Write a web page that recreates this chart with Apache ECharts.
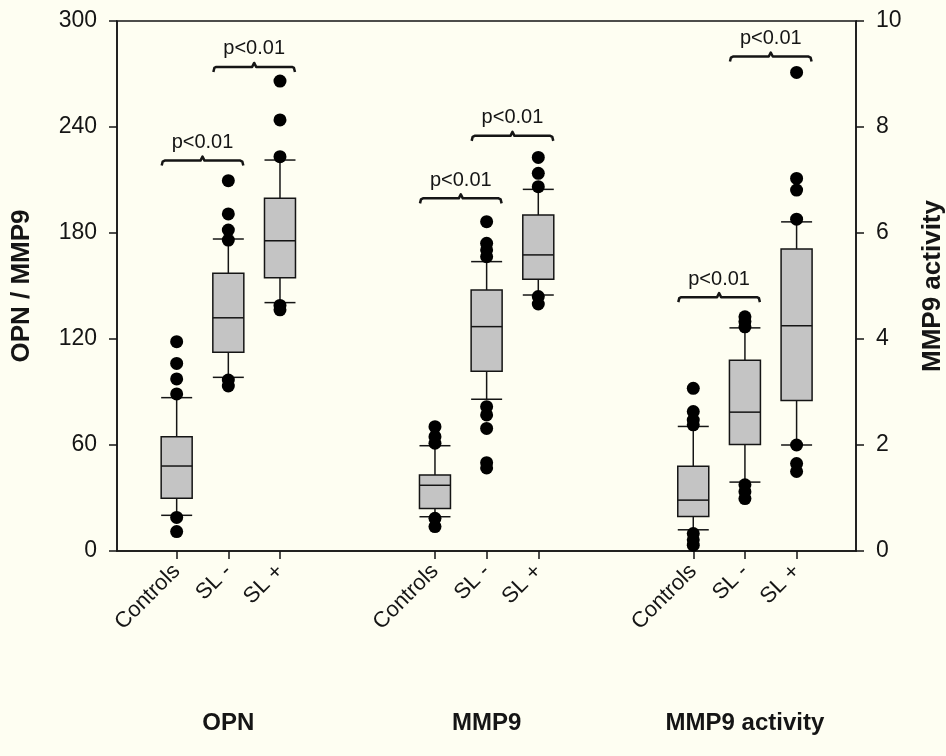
<!DOCTYPE html>
<html>
<head>
<meta charset="utf-8">
<title></title>
<script src="https://cdn.jsdelivr.net/npm/echarts@6.0.0/dist/echarts.min.js"></script>
<style>
    html, body { margin: 0; padding: 0; background: #fefef2; }
    #chart { width: 946px; height: 756px; }
</style>
</head>
<body>
<div id="chart"></div>
<script>
var positions = [0, 1, 2, 5, 6, 7, 10, 11, 12];
var tickLabels = ['Controls', 'SL -', 'SL +', 'Controls', 'SL -', 'SL +', 'Controls', 'SL -', 'SL +'];
var groupPositions = [1, 6, 11];
var groupLabels = ['OPN', 'MMP9', 'MMP9 activity'];

// [lower whisker, Q1, median, Q3, upper whisker]
var opnBoxes = [[20.2, 29.8, 48.1, 64.7, 86.8], [98.3, 112.5, 132, 157.2, 176.6], [140.6, 154.7, 175.6, 199.6, 221.3]];
var mmp9Boxes = [[19.4, 24, 37.2, 43, 59.6], [85.9, 101.7, 127, 147.7, 163.8], [144.9, 153.8, 167.6, 190.2, 204.7]];
var activityBoxes = [[0.40, 0.65, 0.96, 1.60, 2.35], [1.30, 2.01, 2.62, 3.60, 4.21], [2.00, 2.84, 4.25, 5.70, 6.21]];

var opnOutliers = [[118.5, 106.2, 97.4, 88.9, 19, 11], [209.6, 190.8, 181.7, 176, 96.8, 93.4], [266, 244, 223.2, 139, 136.5]];
var mmp9Outliers = [[70.4, 64.7, 61, 18.5, 13.8], [186.4, 174.2, 170.4, 166.6, 81.7, 77, 69.4, 50, 47], [222.8, 213.8, 206.2, 144, 139.8]];
var activityOutliers = [[3.07, 2.63, 2.47, 2.38, 0.33, 0.21, 0.11], [4.42, 4.33, 4.23, 1.25, 1.12, 0.99], [9.03, 7.03, 6.81, 6.26, 2.0, 1.65, 1.5]];

// [from position, to position, y value]
var opnBrackets = [[0, 1, 221], [1, 2, 274]];
var mmp9Brackets = [[5, 6, 199.6], [6, 7, 235]];
var activityBrackets = [[10, 11, 4.79], [11, 12, 9.33]];
var pLabel = 'p<0.01';

var FONT = '"Liberation Sans", Arial, Helvetica, sans-serif';
var INK = '#151515';

function boxData(groups, offset) {
    var out = [];
    groups.forEach(function(b, i) { out.push([positions[offset + i]].concat(b)) });
    return out;
}

function dotData(groups, offset) {
    var out = [];
    groups.forEach(function(vals, i) {
        vals.forEach(function(v) { out.push([positions[offset + i], v]) });
    });
    return out;
}

function renderBox(params, api) {
    var x = api.value(0);
    var lo = api.coord([x, api.value(1)]);
    var q1 = api.coord([x, api.value(2)]);
    var md = api.coord([x, api.value(3)]);
    var q3 = api.coord([x, api.value(4)]);
    var hi = api.coord([x, api.value(5)]);
    var hw = api.size([0.6, 0])[0] / 2;
    var cx = md[0];
    var ls = { stroke: INK, lineWidth: 1.5 };
    return {
        type: 'group',
        children: [
            { type: 'line', shape: { x1: cx, y1: q3[1], x2: cx, y2: hi[1] }, style: ls },
            { type: 'line', shape: { x1: cx, y1: q1[1], x2: cx, y2: lo[1] }, style: ls },
            { type: 'line', shape: { x1: cx - hw, y1: hi[1], x2: cx + hw, y2: hi[1] }, style: ls },
            { type: 'line', shape: { x1: cx - hw, y1: lo[1], x2: cx + hw, y2: lo[1] }, style: ls },
            { type: 'rect', shape: { x: cx - hw, y: q3[1], width: 2 * hw, height: q1[1] - q3[1] }, style: { fill: '#c4c4c4', stroke: INK, lineWidth: 1.5 } },
            { type: 'line', shape: { x1: cx - hw, y1: md[1], x2: cx + hw, y2: md[1] }, style: ls }
        ]
    };
}

function renderBracket(params, api) {
    var a = api.coord([api.value(0) - 0.29, api.value(2)]);
    var b = api.coord([api.value(1) + 0.29, api.value(2)]);
    var y = a[1], m = (a[0] + b[0]) / 2;
    return {
        type: 'group',
        children: [{
            type: 'polyline',
            shape: { points: [[a[0], y + 5], [a[0] + 1, y + 1], [a[0] + 3, y], [m - 2, y], [m, y - 4], [m + 2, y], [b[0] - 3, y], [b[0] - 1, y + 1], [b[0], y + 5]] },
            style: { stroke: INK, lineWidth: 2.5, fill: null, lineJoin: 'round' }
        }, {
            type: 'text',
            x: m, y: y - 8,
            style: { text: pLabel, fontSize: 20, fontFamily: FONT, fill: INK, align: 'center', verticalAlign: 'bottom' }
        }]
    };
}

var chart = echarts.init(document.getElementById('chart'));
chart.setOption({
    backgroundColor: '#fefef2',
    animation: false,
    grid: {
        left: 117, right: 90, top: 21, bottom: 205, outerBoundsMode: 'none',
        show: true, borderColor: INK, borderWidth: 1.5, backgroundColor: 'transparent'
    },
    xAxis: [{
        type: 'value', min: -1.155, max: 13.15, splitLine: { show: false },
        axisLine: { onZero: false, lineStyle: { color: INK, width: 1.5 } },
        axisTick: { customValues: positions, length: 8, lineStyle: { color: INK, width: 1.5 } },
        axisLabel: {
            customValues: positions, rotate: 45, margin: 17, fontSize: 22, fontFamily: FONT, color: INK,
            formatter: function(v) { var i = positions.indexOf(v); return i < 0 ? '' : tickLabels[i] }
        }
    }, {
        type: 'value', min: -1.155, max: 13.15, position: 'bottom', splitLine: { show: false },
        axisLine: { show: false, onZero: false }, axisTick: { show: false },
        axisLabel: {
            customValues: groupPositions, margin: 160, fontSize: 24, fontWeight: 'bold', fontFamily: FONT, color: INK,
            formatter: function(v) { var i = groupPositions.indexOf(v); return i < 0 ? '' : groupLabels[i] }
        }
    }],
    yAxis: [{
        type: 'value', min: 0, max: 300, interval: 60, position: 'left',
        name: 'OPN / MMP9', nameLocation: 'middle', nameRotate: 90, nameGap: 82,
        nameTextStyle: { fontSize: 26, fontWeight: 'bold', fontFamily: FONT, color: INK },
        splitLine: { show: false },
        axisLine: { show: true, onZero: false, lineStyle: { color: INK, width: 1.5 } },
        axisTick: { show: true, length: 8, lineStyle: { color: INK, width: 1.5 } },
        axisLabel: { fontSize: 23, margin: 20, fontFamily: FONT, color: INK }
    }, {
        type: 'value', min: 0, max: 10, interval: 2, position: 'right',
        name: 'MMP9 activity', nameLocation: 'middle', nameRotate: 90, nameGap: 64,
        nameTextStyle: { fontSize: 26, fontWeight: 'bold', fontFamily: FONT, color: INK },
        splitLine: { show: false },
        axisLine: { show: true, onZero: false, lineStyle: { color: INK, width: 1.5 } },
        axisTick: { show: true, length: 8, lineStyle: { color: INK, width: 1.5 } },
        axisLabel: { fontSize: 23, margin: 20, fontFamily: FONT, color: INK }
    }],
    series: [{
        type: 'custom', renderItem: renderBox, yAxisIndex: 0,
        encode: { x: 0, y: [1, 2, 3, 4, 5] },
        data: boxData(opnBoxes, 0).concat(boxData(mmp9Boxes, 3))
    }, {
        type: 'custom', renderItem: renderBox, yAxisIndex: 1,
        encode: { x: 0, y: [1, 2, 3, 4, 5] },
        data: boxData(activityBoxes, 6)
    }, {
        type: 'scatter', yAxisIndex: 0, symbolSize: 13, z: 5,
        itemStyle: { color: '#000', opacity: 1 },
        data: dotData(opnOutliers, 0).concat(dotData(mmp9Outliers, 3))
    }, {
        type: 'scatter', yAxisIndex: 1, symbolSize: 13, z: 5,
        itemStyle: { color: '#000', opacity: 1 },
        data: dotData(activityOutliers, 6)
    }, {
        type: 'custom', renderItem: renderBracket, yAxisIndex: 0,
        encode: { x: [0, 1], y: 2 },
        data: opnBrackets.concat(mmp9Brackets)
    }, {
        type: 'custom', renderItem: renderBracket, yAxisIndex: 1,
        encode: { x: [0, 1], y: 2 },
        data: activityBrackets
    }]
});
</script>
</body>
</html>
